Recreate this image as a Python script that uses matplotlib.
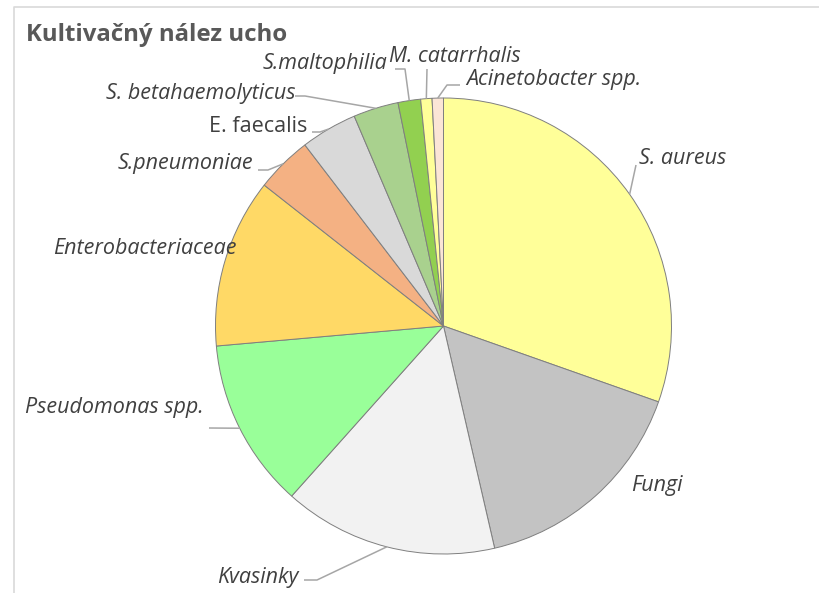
import matplotlib.pyplot as plt
import numpy as np

# Data
labels = ['S. aureus', 'Fungi', 'Kvasinky', 'Pseudomonas spp.', 'Enterobacteriaceae',
          'S.pneumoniae', 'E. faecalis', 'S. betahaemolyticus', 'S.maltophilia',
          'M. catarrhalis', 'Acinetobacter spp.']
counts = [38, 20, 19, 15, 15, 5, 5, 4, 2, 1, 1]
colors = ['#FFFF99', '#C3C3C3', '#F2F2F2', '#99FF99', '#FFD966',
          '#F4B183', '#D9D9D9', '#A9D18E', '#92D050', '#FFFF99', '#FBE5D6']
italic = [True, True, True, True, True, True, False, True, True, True, True]

W, H = 819, 593
CX, CY, R = 443.5, H - 326, 228

# label layout: (x, y in pixels from top, ha), leader elbow (pixels) or None
label_pos = [
    (639, 158, 'left'), (631, 485, 'left'), (298, 578, 'right'),
    (204, 407, 'right'), (237, 249, 'right'), (253, 164, 'right'),
    (307, 126, 'right'), (295, 94, 'right'), (387, 63, 'right'),
    (389, 56, 'left'), (466, 79, 'left'),
]
leaders = [
    [(636, 165)], None, [(304, 580), (317, 580)],
    [(209, 428)], None, [(258, 170), (268, 170)],
    [(312, 132), (320, 132)], [(295, 96), (305, 96)], [(395, 69), (405, 69)],
    [(427, 69)], [(460, 85), (447, 85)],
]

fig = plt.figure(figsize=(W / 100, H / 100), dpi=100)
ax = fig.add_axes([0, 0, 1, 1])

wedges, _ = ax.pie(counts, colors=colors, startangle=90, counterclock=False,
                   center=(CX, CY), radius=R,
                   wedgeprops=dict(edgecolor='#7F7F7F', linewidth=0.7))

ax.set_xlim(0, W)
ax.set_ylim(0, H)
ax.set_aspect('equal')
ax.axis('off')

for w, lab, it, pos, lead in zip(wedges, labels, italic, label_pos, leaders):
    x, y, ha = pos
    ax.text(x, H - y, lab, ha=ha, va='center', fontsize=15.5,
            family='Open Sans', style='italic' if it else 'normal', color='#404040')
    if lead is not None:
        mid = np.deg2rad((w.theta1 + w.theta2) / 2)
        ex = CX + R * np.cos(mid)
        ey = CY + R * np.sin(mid)
        xs = [p[0] for p in lead] + [ex]
        ys = [H - p[1] for p in lead] + [ey]
        ax.plot(xs, ys, color='#A6A6A6', linewidth=1.1, solid_capstyle='butt')

# title and chart frame
ax.text(26, H - 35, 'Kultivačný nález ucho', ha='left', va='center', fontsize=17.3,
        family='Open Sans', weight='bold', color='#595959')
ax.plot([14, 14, W], [0, H - 6.5, H - 6.5], color='#D9D9D9', linewidth=1.2)

fig.savefig('out.png', dpi=100)
